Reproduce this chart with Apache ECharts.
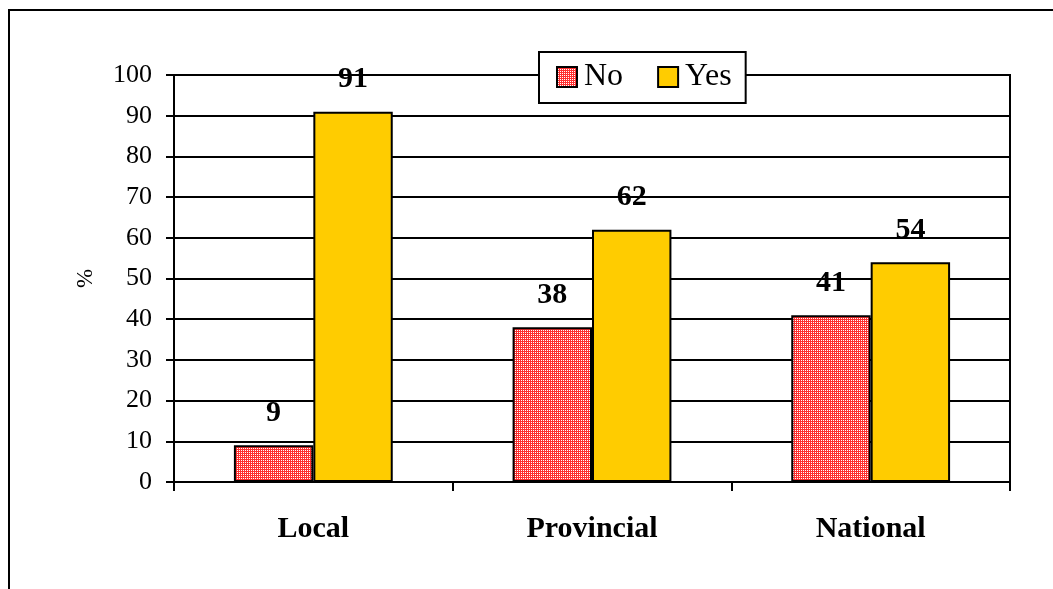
<!DOCTYPE html>
<html>
<head>
<meta charset="utf-8">
<script src="https://cdn.jsdelivr.net/npm/echarts@6/dist/echarts.min.js"></script>
<style>
  html, body { margin: 0; padding: 0; background: #fff; }
  #chart { width: 1053px; height: 589px; }
</style>
</head>
<body>
<div id="chart"></div>
<script>
// data
const categories = ['Local', 'Provincial', 'National']
const noValues = [9, 38, 41]
const yesValues = [91, 62, 54]
const yTicks = { min: 0, max: 100, step: 10 }

// small red/white hatch for the "No" bars
function makeHatch () {
  const c = document.createElement('canvas')
  c.width = 4
  c.height = 4
  const ctx = c.getContext('2d')
  ctx.fillStyle = '#ffffff'
  ctx.fillRect(0, 0, 4, 4)
  ctx.fillStyle = '#ff3030'
  ctx.fillRect(0, 0, 1, 4)
  ctx.fillRect(2, 0, 1, 4)
  ctx.fillRect(0, 1, 4, 1)
  ctx.fillRect(0, 3, 4, 1)
  return c
}

const font = 'Liberation Serif'
const chart = echarts.init(document.getElementById('chart'))

const valueLabel = {
  show: true,
  position: 'top',
  distance: 17,
  color: '#000',
  fontFamily: font,
  fontWeight: 'bold',
  fontSize: 30
}

chart.setOption({
  animation: false,
  backgroundColor: '#fff',
  textStyle: { fontFamily: font },
  graphic: [{
    type: 'rect',
    shape: { x: 9, y: 10, width: 1200, height: 800 },
    style: { fill: 'none', stroke: '#000', lineWidth: 2 },
    z: 0
  }],
  legend: {
    left: 539,
    top: 52,
    padding: [9, 14, 10, 17],
    itemWidth: 20,
    itemHeight: 20,
    itemGap: 34,
    backgroundColor: '#fff',
    borderColor: '#000',
    borderWidth: 2,
    textStyle: { fontFamily: font, fontSize: 32, color: '#000', padding: [0, 0, 0, 2] },
    data: [
      { name: 'No', icon: 'rect' },
      { name: 'Yes', icon: 'rect' }
    ]
  },
  grid: {
    left: 174, right: 43, top: 75, bottom: 107,
    show: true,
    borderColor: '#000',
    borderWidth: 2
  },
  xAxis: {
    type: 'category',
    data: categories,
    axisLine: { lineStyle: { color: '#000', width: 2 } },
    axisTick: { show: true, length: 9, lineStyle: { color: '#000', width: 2 } },
    axisLabel: {
      margin: 32,
      color: '#000',
      fontFamily: font,
      fontWeight: 'bold',
      fontSize: 30
    }
  },
  yAxis: {
    type: 'value',
    min: yTicks.min,
    max: yTicks.max,
    interval: yTicks.step,
    name: '%',
    nameLocation: 'middle',
    nameRotate: 90,
    nameGap: 77,
    nameTextStyle: { color: '#000', fontFamily: font, fontSize: 23 },
    axisLine: { show: true, lineStyle: { color: '#000', width: 2 } },
    axisTick: { show: true, length: 8, lineStyle: { color: '#000', width: 2 } },
    axisLabel: { margin: 22, color: '#000', fontFamily: font, fontSize: 26 },
    splitLine: { lineStyle: { color: '#000', width: 2 } }
  },
  series: [
    {
      name: 'No',
      type: 'bar',
      data: noValues,
      barGap: '0%',
      barCategoryGap: '43%',
      itemStyle: {
        color: { image: makeHatch(), repeat: 'repeat' },
        borderColor: '#000',
        borderWidth: 2
      },
      label: valueLabel
    },
    {
      name: 'Yes',
      type: 'bar',
      data: yesValues,
      itemStyle: { color: '#ffcc00', borderColor: '#000', borderWidth: 2 },
      label: valueLabel
    }
  ]
})
</script>
</body>
</html>
